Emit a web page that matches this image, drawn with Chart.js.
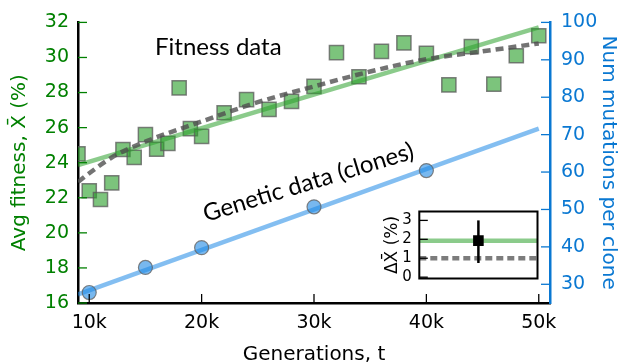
<!DOCTYPE html>
<html><head><meta charset="utf-8">
<script src="https://cdn.jsdelivr.net/npm/chart.js@4"></script>
<style>
html,body{margin:0;padding:0;background:#fff;}
#wrap{position:relative;width:622px;height:364px;overflow:hidden;background:#fff;}
#main{position:absolute;left:0;top:0;width:622px;height:364px;}
#inset{position:absolute;left:360px;top:195px;width:185px;height:100px;}
</style></head><body>
<div id="wrap"><canvas id="main" width="622" height="364"></canvas><canvas id="inset" width="185" height="100"></canvas></div>
<script>
// ---- data ----
const fitGen = [9000,10000,11000,12000,13000,14000,15000,16000,17000,18000,19000,20000,22000,24000,26000,28000,30000,32000,34000,36000,38000,40000,42000,44000,46000,48000,50000];
const fitVal = [24.5,22.4,21.9,22.85,24.75,24.3,25.6,24.77,25.1,28.27,25.94,25.5,26.85,27.6,27.04,27.5,28.35,30.28,28.9,30.35,30.83,30.24,28.44,30.62,28.48,30.1,31.24];
const fitLineGen = [9000,50000];
const fitLineVal = [23.86,31.72];
const modelGen = [9000,10000,12000,15000,20000,25000,30000,35000,40000,45000,50000];
const modelVal = [22.9,23.4,24.3,25.2,26.35,27.45,28.35,29.2,29.9,30.35,30.8];
const mutGen = [10000,15000,20000,30000,40000];
const mutVal = [27.8,34.5,39.8,50.7,60.4];
const mutLineGen = [9000,50000];
const mutLineVal = [27.3,71.6];
const xTicks = [10000,20000,30000,40000,50000];
const yTicks = [16,18,20,22,24,26,28,30,32];
const y1Ticks = [30,40,50,60,70,80,90,100];
// inset
const insetTicks = [0,1,2,3];
const insetFitLine = 1.93;
const insetModelLine = 1.0;
const insetObs = 1.93;
const insetErr = [0.75,3.0];

const GREEN = '#008000';
const BLUE = '#0a78d2';
Chart.defaults.font.family = "'DejaVu Sans', sans-serif";

const pts = (xs, ys) => xs.map((x,i)=>({x:x,y:ys[i]}));

const innerTicks = {
  id:'innerTicks',
  afterDatasetsDraw(chart){
    const ctx = chart.ctx, a = chart.chartArea, s = chart.scales, L = 9;
    ctx.save(); ctx.lineWidth = 1.3;
    ctx.strokeStyle = '#000';
    s.x.ticks.forEach((t,i)=>{const p=s.x.getPixelForTick(i);ctx.beginPath();ctx.moveTo(p,a.bottom);ctx.lineTo(p,a.bottom-L);ctx.stroke();});
    ctx.strokeStyle = GREEN;
    s.y.ticks.forEach((t,i)=>{const p=s.y.getPixelForTick(i);ctx.beginPath();ctx.moveTo(a.left,p);ctx.lineTo(a.left+L,p);ctx.stroke();});
    ctx.strokeStyle = BLUE;
    s.y1.ticks.forEach((t,i)=>{const p=s.y1.getPixelForTick(i);ctx.beginPath();ctx.moveTo(a.right,p);ctx.lineTo(a.right-L,p);ctx.stroke();});
    // annotations
    ctx.fillStyle = '#000';
    ctx.font = "24px Lato";
    ctx.textBaseline = 'alphabetic';
    ctx.fillText('Fitness data', 155, 54.5);
    ctx.translate(206, 222);
    ctx.rotate(-17*Math.PI/180);
    ctx.fillText('Genetic data (clones)', 0, 0);
    ctx.restore();
  }
};

new Chart(document.getElementById('main'), {
  type:'scatter',
  data:{datasets:[
    {data:pts(fitGen,fitVal), yAxisID:'y', pointStyle:'rect', pointRadius:10, pointHoverRadius:10,
     backgroundColor:'rgba(44,160,44,0.62)', borderColor:'rgba(90,90,90,0.75)', borderWidth:1.5, showLine:false, clip:0, order:5},
    {data:pts(fitLineGen,fitLineVal), yAxisID:'y', showLine:true, pointRadius:0, borderColor:'rgba(44,160,44,0.55)', borderWidth:4.5, clip:0, order:4},
    {data:pts(modelGen,modelVal), yAxisID:'y', showLine:true, pointRadius:0, borderColor:'rgba(80,80,80,0.8)', borderDash:[8,5], borderWidth:4.5, cubicInterpolationMode:'monotone', clip:0, order:3},
    {data:pts(mutLineGen,mutLineVal), yAxisID:'y1', showLine:true, pointRadius:0, borderColor:'rgba(30,136,229,0.55)', borderWidth:4.5, clip:0, order:2},
    {data:pts(mutGen,mutVal), yAxisID:'y1', pointStyle:'circle', pointRadius:7, pointHoverRadius:7,
     backgroundColor:'rgba(30,136,229,0.6)', borderColor:'rgba(100,100,100,0.8)', borderWidth:1.2, showLine:false, clip:0, order:1}
  ]},
  options:{
    responsive:false, animation:false, devicePixelRatio:1,
    layout:{padding:{top:21.7,left:0,right:0,bottom:0}},
    plugins:{legend:{display:false}, tooltip:{enabled:false}},
    scales:{
      x:{type:'linear', min:9000, max:51000,
        afterBuildTicks:s=>{s.ticks = xTicks.map(v=>({value:v}));},
        afterFit:s=>{s.height = 61;},
        ticks:{callback:v=>(v/1000)+'k', color:'#000', font:{size:19}, padding:9, maxRotation:0, autoSkip:false},
        grid:{drawOnChartArea:false, drawTicks:false},
        border:{color:'#000', width:2.5},
        title:{display:true, text:'Generations, t', color:'#000', font:{size:20}, padding:{top:0,bottom:-3}}
      },
      y:{type:'linear', position:'left', min:16, max:32,
        afterBuildTicks:s=>{s.ticks = yTicks.map(v=>({value:v}));},
        afterFit:s=>{s.width = 78;},
        ticks:{color:GREEN, font:{size:19}, padding:9},
        grid:{drawOnChartArea:false, drawTicks:false},
        border:{color:'#000', width:2.5},
        title:{display:true, text:'Avg fitness, X\u0304 (%)', color:GREEN, font:{size:20}, padding:{top:8,bottom:0}}
      },
      y1:{type:'linear', position:'right', min:25, max:100,
        afterBuildTicks:s=>{s.ticks = y1Ticks.map(v=>({value:v}));},
        afterFit:s=>{s.width = 72;},
        ticks:{color:BLUE, font:{size:19}, padding:11},
        grid:{drawOnChartArea:false, drawTicks:false},
        border:{color:BLUE, width:2.5},
        title:{display:true, text:'Num mutations per clone', color:BLUE, font:{size:20}, padding:{top:2,bottom:0}}
      }
    }
  },
  plugins:[innerTicks]
});

const insetDeco = {
  id:'insetDeco',
  beforeDatasetsDraw(chart){
    const ctx=chart.ctx,a=chart.chartArea;
    ctx.save();ctx.fillStyle='#fff';ctx.fillRect(a.left,a.top,a.right-a.left,a.bottom-a.top);ctx.restore();
  },
  afterDatasetsDraw(chart){
    const ctx=chart.ctx,a=chart.chartArea,s=chart.scales;
    ctx.save();
    const px=s.x.getPixelForValue(1);
    ctx.strokeStyle='#000';ctx.lineWidth=2.5;
    ctx.beginPath();ctx.moveTo(px,s.y.getPixelForValue(insetErr[0]));ctx.lineTo(px,s.y.getPixelForValue(insetErr[1]));ctx.stroke();
    ctx.lineWidth=1.3;
    s.y.ticks.forEach((t,i)=>{const p=s.y.getPixelForTick(i);ctx.beginPath();ctx.moveTo(a.left,p);ctx.lineTo(a.left+8.5,p);ctx.stroke();});
    ctx.lineWidth=2;
    ctx.strokeRect(a.left,a.top,a.right-a.left,a.bottom-a.top);
    ctx.restore();
  }
};

new Chart(document.getElementById('inset'), {
  type:'scatter',
  data:{datasets:[
    {data:[{x:0,y:insetFitLine},{x:2,y:insetFitLine}], showLine:true, pointRadius:0, borderColor:'rgba(44,160,44,0.55)', borderWidth:4.5, order:3},
    {data:[{x:0,y:insetModelLine},{x:2,y:insetModelLine}], showLine:true, pointRadius:0, borderColor:'rgba(80,80,80,0.75)', borderDash:[7,4], borderWidth:4.5, order:2},
    {data:[{x:1,y:insetObs}], pointStyle:'rect', pointRadius:7.5, pointHoverRadius:7.5, backgroundColor:'#000', borderColor:'#000', borderWidth:0, order:1}
  ]},
  options:{
    responsive:false, animation:false, devicePixelRatio:1,
    layout:{padding:{top:11.7,right:6.7,bottom:3.3,left:0}},
    plugins:{legend:{display:false}, tooltip:{enabled:false}},
    scales:{
      x:{type:'linear', display:false, min:0, max:2},
      y:{type:'linear', min:-0.07, max:3.47,
        afterBuildTicks:s=>{s.ticks = insetTicks.map(v=>({value:v}));},
        afterFit:s=>{s.width = 59.3;},
        ticks:{color:'#000', font:{size:15}, padding:7.5},
        grid:{drawOnChartArea:false, drawTicks:false},
        border:{display:false},
        title:{display:true, text:'\u0394X\u0304 (%)', color:'#000', font:{size:17}, padding:{top:22,bottom:0}}
      }
    }
  },
  plugins:[insetDeco]
});
</script>
</body></html>
